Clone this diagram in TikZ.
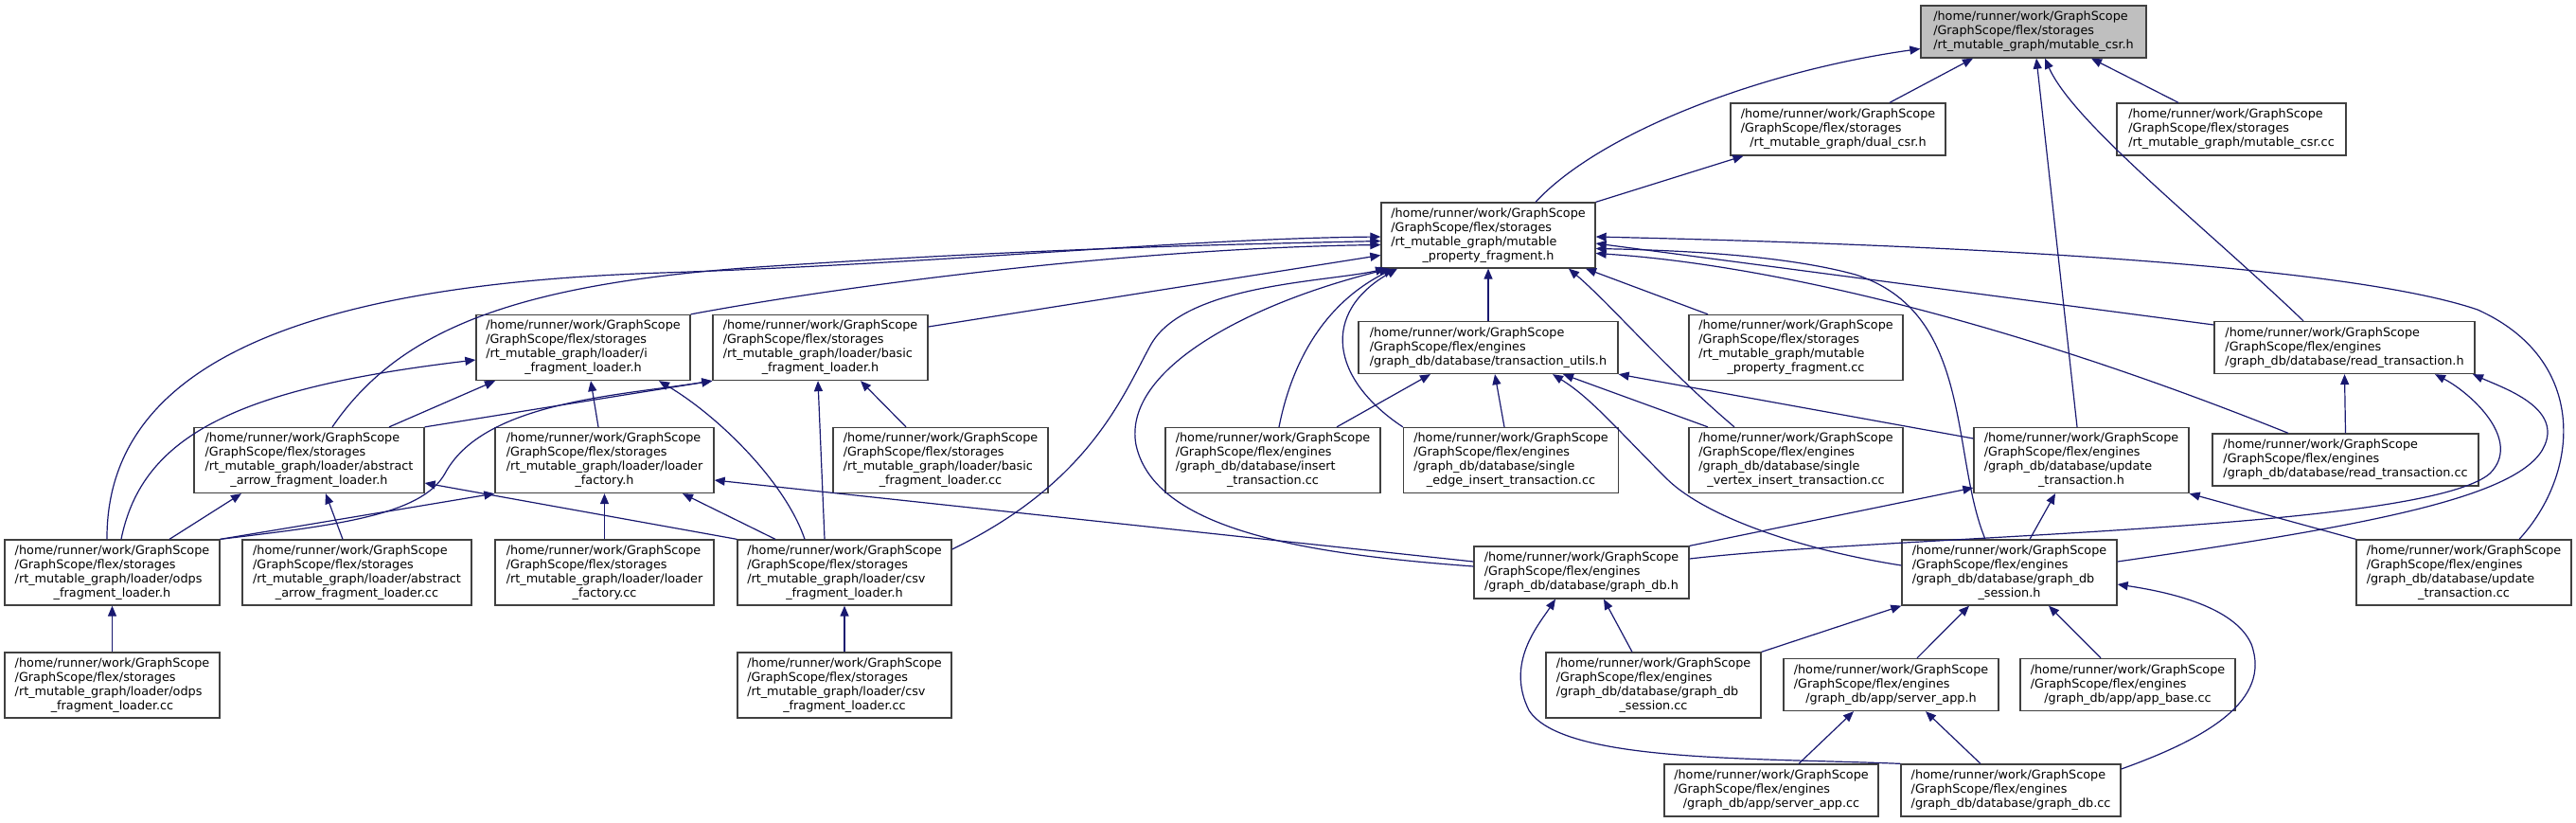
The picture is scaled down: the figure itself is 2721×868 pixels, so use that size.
\documentclass[tikz,border=0pt]{standalone}
\usepackage{fontspec}
\setmainfont{DejaVu Sans}
\usepackage{tikz}
\usetikzlibrary{arrows.meta}

\definecolor{edgeBlue}{HTML}{191970}
\definecolor{rootGray}{HTML}{BFBFBF}

\newcommand{\homeDir}{/home/runner/work/GraphScope}
\newcommand{\storDir}{/GraphScope/flex/storages}
\newcommand{\engDir}{/GraphScope/flex/engines}
\newcommand{\threeLines}[3]{\begin{tabular}{@{}l@{}}#1\\#2\\\multicolumn{1}{@{}c@{}}{#3}\end{tabular}}
\newcommand{\fourLines}[4]{\begin{tabular}{@{}l@{}}#1\\#2\\#3\\\multicolumn{1}{@{}c@{}}{#4}\end{tabular}}
\newcommand{\stThree}[1]{\threeLines{\homeDir}{\storDir}{#1}}
\newcommand{\stFour}[2]{\fourLines{\homeDir}{\storDir}{#1}{#2}}
\newcommand{\enThree}[1]{\threeLines{\homeDir}{\engDir}{#1}}
\newcommand{\enFour}[2]{\fourLines{\homeDir}{\engDir}{#1}{#2}}

\begin{document}
\begin{tikzpicture}[x=1pt, y=-1pt,
  fileBox/.style={draw=black!75, line width=1.3pt, fill=white, inner sep=0pt,
                  minimum width=227pt, minimum height=69pt,
                  font=\fontsize{12.8}{15}\selectfont},
  shortBox/.style={fileBox, minimum height=55pt},
  incl/.style={draw=edgeBlue, line width=1.2pt, ->},
  >={Stealth[length=11pt,width=9pt,inset=0pt]}
]
  \path[use as bounding box, fill=white] (0,0) rectangle (2721,868);

  % storages
  \node[shortBox, fill=rootGray, minimum width=238pt] (mutCsrH) at (2148,33.5)
    {\stThree{/rt\_mutable\_graph/mutable\_csr.h}};
  \node[shortBox] (dualCsrH) at (1941.5,136.5) {\stThree{/rt\_mutable\_graph/dual\_csr.h}};
  \node[shortBox, minimum width=242pt] (mutCsrCc) at (2357,136.5)
    {\stThree{/rt\_mutable\_graph/mutable\_csr.cc}};
  \node[fileBox, minimum width=226pt] (mpfH) at (1572,248.5)
    {\stFour{/rt\_mutable\_graph/mutable}{\_property\_fragment.h}};
  \node[fileBox, minimum width=226pt] (iLoaderH) at (616,367)
    {\stFour{/rt\_mutable\_graph/loader/i}{\_fragment\_loader.h}};
  \node[fileBox] (basicLoaderH) at (866.5,367)
    {\stFour{/rt\_mutable\_graph/loader/basic}{\_fragment\_loader.h}};
  \node[fileBox, minimum width=226pt] (mpfCc) at (1897,367)
    {\stFour{/rt\_mutable\_graph/mutable}{\_property\_fragment.cc}};
  \node[fileBox, minimum width=243pt] (arrowLoaderH) at (326.5,486)
    {\stFour{/rt\_mutable\_graph/loader/abstract}{\_arrow\_fragment\_loader.h}};
  \node[fileBox, minimum width=231pt] (factoryH) at (638.5,486)
    {\stFour{/rt\_mutable\_graph/loader/loader}{\_factory.h}};
  \node[fileBox] (basicLoaderCc) at (993.5,486)
    {\stFour{/rt\_mutable\_graph/loader/basic}{\_fragment\_loader.cc}};
  \node[fileBox] (odpsLoaderH) at (118.5,604.5)
    {\stFour{/rt\_mutable\_graph/loader/odps}{\_fragment\_loader.h}};
  \node[fileBox, minimum width=242pt] (arrowLoaderCc) at (377,604.5)
    {\stFour{/rt\_mutable\_graph/loader/abstract}{\_arrow\_fragment\_loader.cc}};
  \node[fileBox, minimum width=231pt] (factoryCc) at (638.5,604.5)
    {\stFour{/rt\_mutable\_graph/loader/loader}{\_factory.cc}};
  \node[fileBox, minimum width=226pt] (csvLoaderH) at (892,604.5)
    {\stFour{/rt\_mutable\_graph/loader/csv}{\_fragment\_loader.h}};
  \node[fileBox] (odpsLoaderCc) at (118.5,723.5)
    {\stFour{/rt\_mutable\_graph/loader/odps}{\_fragment\_loader.cc}};
  \node[fileBox, minimum width=226pt] (csvLoaderCc) at (892,723.5)
    {\stFour{/rt\_mutable\_graph/loader/csv}{\_fragment\_loader.cc}};

  % engines
  \node[shortBox, minimum width=274pt] (txnUtilsH) at (1572,367)
    {\enThree{/graph\_db/database/transaction\_utils.h}};
  \node[shortBox, minimum width=275pt] (readTxnH) at (2476.5,367)
    {\enThree{/graph\_db/database/read\_transaction.h}};
  \node[fileBox] (insertTxnCc) at (1344.5,486)
    {\enFour{/graph\_db/database/insert}{\_transaction.cc}};
  \node[fileBox] (edgeInsertCc) at (1596,486)
    {\enFour{/graph\_db/database/single}{\_edge\_insert\_transaction.cc}};
  \node[fileBox, minimum width=226pt] (vertexInsertCc) at (1897,486)
    {\enFour{/graph\_db/database/single}{\_vertex\_insert\_transaction.cc}};
  \node[fileBox] (updateTxnH) at (2198.5,486)
    {\enFour{/graph\_db/database/update}{\_transaction.h}};
  \node[shortBox, minimum width=281pt] (readTxnCc) at (2477.5,485.5)
    {\enThree{/graph\_db/database/read\_transaction.cc}};
  \node[shortBox] (graphDbH) at (1670.5,604.5)
    {\enThree{/graph\_db/database/graph\_db.h}};
  \node[fileBox] (sessionH) at (2122.5,604.5)
    {\enFour{/graph\_db/database/graph\_db}{\_session.h}};
  \node[fileBox] (updateTxnCc) at (2602.5,604.5)
    {\enFour{/graph\_db/database/update}{\_transaction.cc}};
  \node[fileBox] (sessionCc) at (1746.5,723.5)
    {\enFour{/graph\_db/database/graph\_db}{\_session.cc}};
  \node[shortBox] (serverAppH) at (1997.5,723) {\enThree{/graph\_db/app/server\_app.h}};
  \node[shortBox] (appBaseCc) at (2247.5,723) {\enThree{/graph\_db/app/app\_base.cc}};
  \node[shortBox, minimum width=226pt] (serverAppCc) at (1871,834.5)
    {\enThree{/graph\_db/app/server\_app.cc}};
  \node[shortBox, minimum width=232pt] (graphDbCc) at (2124,834.5)
    {\enThree{/graph\_db/database/graph\_db.cc}};

  % includes of mutable_csr.h
  \draw[incl] ([xshift=54.5pt]dualCsrH.north) -- ([xshift=-64pt]mutCsrH.south);
  \draw[incl] ([xshift=-56pt]mutCsrCc.north) -- ([xshift=61pt]mutCsrH.south);
  \draw[incl] ([xshift=50pt]mpfH.north) .. controls (1690,140) and (1860,75) .. ([yshift=-18pt]mutCsrH.west);
  \draw[incl] (mpfH.north east) -- ([xshift=-100pt]dualCsrH.south);
  \draw[incl] ([xshift=-4.5pt]updateTxnH.north) -- ([xshift=3pt]mutCsrH.south);
  \draw[incl] ([xshift=-43.5pt]readTxnH.north) .. controls (2330,240) and (2190,130) .. ([xshift=12pt]mutCsrH.south);

  % includes of mutable_property_fragment.h
  \draw[incl] ([xshift=-5.5pt]odpsLoaderH.north) .. controls (112,380) and (330,300) .. (700,288)
    .. controls (1000,278) and (1250,252) .. ([yshift=-1.5pt]mpfH.west);
  \draw[incl] ([xshift=24.5pt]arrowLoaderH.north) .. controls (420,350) and (540,300) .. (800,282)
    .. controls (1100,262) and (1300,258) .. ([yshift=-6pt]mpfH.west);
  \draw[incl] (iLoaderH.north east) .. controls (900,300) and (1200,262) .. ([yshift=-10pt]mpfH.west);
  \draw[incl] ([yshift=22pt]basicLoaderH.east) -- ([yshift=-21pt]mpfH.west);
  \draw[incl] ([yshift=24.5pt]csvLoaderH.east) .. controls (1150,510) and (1185,420) .. (1215,365)
    .. controls (1250,300) and (1400,298) .. ([xshift=-108pt]mpfH.south);
  \draw[incl] ([yshift=6.5pt]graphDbH.west) .. controls (1380,585) and (1220,560) .. (1200,470)
    .. controls (1185,390) and (1320,320) .. ([xshift=-104pt]mpfH.south);
  \draw[incl] ([xshift=6.5pt]insertTxnCc.north) .. controls (1365,380) and (1400,320) .. ([xshift=-100pt]mpfH.south);
  \draw[incl] (edgeInsertCc.north west) .. controls (1405,400) and (1395,330) .. ([xshift=-96pt]mpfH.south);
  \draw[incl] (txnUtilsH.north) -- (mpfH.south);
  \draw[incl] ([xshift=-65pt]vertexInsertCc.north) .. controls (1760,390) and (1700,320) .. ([xshift=85pt]mpfH.south);
  \draw[incl] ([xshift=-93pt]mpfCc.north) -- ([xshift=103pt]mpfH.south);
  \draw[incl] ([xshift=58.5pt]updateTxnCc.north) .. controls (2725,500) and (2735,380) .. (2617,327)
    .. controls (2450,270) and (1900,255) .. ([yshift=-1.5pt]mpfH.east);
  \draw[incl] ([yshift=24pt]readTxnH.west) -- ([yshift=-8.5pt]mpfH.east);
  \draw[incl] ([xshift=-25.5pt]sessionH.north) .. controls (2060,480) and (2085,330) .. (1960,290)
    .. controls (1880,268) and (1760,264) .. ([yshift=-14pt]mpfH.east);
  \draw[incl] ([xshift=-60.5pt]readTxnCc.north) .. controls (2100,330) and (1850,278) .. ([yshift=-19pt]mpfH.east);

  % includes of transaction_utils.h
  \draw[incl] ([yshift=23pt]updateTxnH.west) -- (txnUtilsH.south east);
  \draw[incl] ([xshift=67.5pt]insertTxnCc.north) -- ([xshift=-61pt]txnUtilsH.south);
  \draw[incl] ([xshift=-7pt]edgeInsertCc.north) -- ([xshift=7pt]txnUtilsH.south);
  \draw[incl] ([xshift=-93pt]vertexInsertCc.north) -- ([xshift=79pt]txnUtilsH.south);
  \draw[incl] ([yshift=7.5pt]sessionH.west) .. controls (1900,580) and (1800,545) .. (1760,505)
    .. controls (1705,450) and (1680,420) .. ([xshift=68pt]txnUtilsH.south);

  % update / read transaction headers
  \draw[incl] (graphDbH.north east) -- ([yshift=-29pt]updateTxnH.west);
  \draw[incl] ([yshift=14.5pt]graphDbH.east) .. controls (2000,565) and (2560,560) .. (2630,500)
    .. controls (2665,465) and (2610,415) .. ([xshift=95.5pt]readTxnH.south);
  \draw[incl] ([yshift=11.5pt]sessionH.east) .. controls (2500,555) and (2665,525) .. (2688,470)
    .. controls (2705,430) and (2645,410) .. ([xshift=135.5pt]readTxnH.south);
  \draw[incl] ([xshift=21.5pt]sessionH.north) -- ([xshift=-27.5pt]updateTxnH.south);
  \draw[incl] (updateTxnCc.north west) -- (updateTxnH.south east);
  \draw[incl] (readTxnCc.north) -- (readTxnH.south);

  % graph_db.h
  \draw[incl] ([xshift=-22.5pt]sessionCc.north) -- ([xshift=23.5pt]graphDbH.south);
  \draw[incl] (graphDbCc.north west) .. controls (1850,800) and (1650,805) .. (1615,750)
    .. controls (1590,700) and (1625,660) .. ([xshift=-27.5pt]graphDbH.south);
  \draw[incl] ([yshift=11.5pt]graphDbH.west) -- ([yshift=-21pt]factoryH.east);

  % loaders
  \draw[incl] (csvLoaderH.north west) -- ([yshift=-24pt]arrowLoaderH.east);
  \draw[incl] ([xshift=60.5pt]odpsLoaderH.north) -- ([xshift=-71.5pt]arrowLoaderH.south);
  \draw[incl] ([xshift=-15pt]arrowLoaderCc.north) -- ([xshift=17.5pt]arrowLoaderH.south);
  \draw[incl] (odpsLoaderH.north east) -- (factoryH.south west);
  \draw[incl] (factoryCc.north) -- (factoryH.south);
  \draw[incl] ([xshift=-73pt]csvLoaderH.north) -- ([xshift=82.5pt]factoryH.south);
  \draw[incl] (odpsLoaderH.north east) .. controls (350,555) and (445,545) .. (470,500)
    .. controls (510,425) and (650,418) .. (basicLoaderH.south west);
  \draw[incl] (arrowLoaderH.north east) -- (basicLoaderH.south west);
  \draw[incl] ([xshift=84.5pt]arrowLoaderH.north) -- ([xshift=-93pt]iLoaderH.south);
  \draw[incl] ([xshift=9.5pt]odpsLoaderH.north) .. controls (150,460) and (250,410) .. ([yshift=-13pt]iLoaderH.west);
  \draw[incl] ([xshift=-6.5pt]factoryH.north) -- ([xshift=8pt]iLoaderH.south);
  \draw[incl] ([xshift=-42pt]csvLoaderH.north) .. controls (830,510) and (760,440) .. ([xshift=80pt]iLoaderH.south);
  \draw[incl] ([xshift=-21pt]csvLoaderH.north) -- ([xshift=-2.5pt]basicLoaderH.south);
  \draw[incl] ([xshift=-36.5pt]basicLoaderCc.north) -- ([xshift=42.5pt]basicLoaderH.south);
  \draw[incl] (odpsLoaderCc.north) -- (odpsLoaderH.south);
  \draw[incl] (csvLoaderCc.north) -- (csvLoaderH.south);

  % session and app
  \draw[incl] (sessionCc.north east) -- (sessionH.south west);
  \draw[incl] ([xshift=27.5pt]serverAppH.north) -- ([xshift=-42.5pt]sessionH.south);
  \draw[incl] ([xshift=-28.5pt]appBaseCc.north) -- ([xshift=41.5pt]sessionH.south);
  \draw[incl] ([yshift=22.5pt]graphDbCc.east) .. controls (2330,780) and (2400,740) .. (2378,680)
    .. controls (2360,640) and (2290,625) .. ([yshift=-12.5pt]sessionH.east);
  \draw[incl] ([xshift=29pt]serverAppCc.north) -- ([xshift=-39.5pt]serverAppH.south);
  \draw[incl] ([xshift=-32pt]graphDbCc.north) -- ([xshift=36.5pt]serverAppH.south);
\end{tikzpicture}
\end{document}
